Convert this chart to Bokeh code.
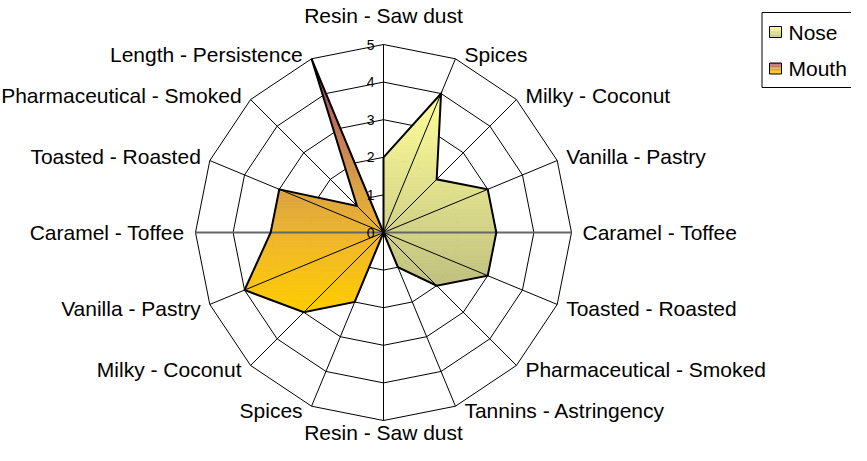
import numpy as np
from bokeh.plotting import figure
from bokeh.models import Range1d
from bokeh.core.properties import value
from bokeh.embed import file_html
from bokeh.resources import INLINE

# ---------------- data ----------------
categories = ["Resin - Saw dust", "Spices", "Milky - Coconut", "Vanilla - Pastry",
              "Caramel - Toffee", "Toasted - Roasted", "Pharmaceutical - Smoked",
              "Tannins - Astringency", "Resin - Saw dust", "Spices", "Milky - Coconut",
              "Vanilla - Pastry", "Caramel - Toffee", "Toasted - Roasted",
              "Pharmaceutical - Smoked", "Length - Persistence"]
nose = [2, 4, 2, 3, 3, 3, 2, 1, 0, 0, 0, 0, 0, 0, 0, 0]
mouth = [0, 0, 0, 0, 0, 0, 0, 0, 0, 2, 3, 4, 3, 3, 1, 5]
tick_values = [0, 1, 2, 3, 4, 5]
tick_labels = ["0", "1", "2", "3", "4", "5"]
series_names = ["Nose", "Mouth"]

# ---------------- styles ----------------
W, H = 851, 445
S = 37.6                 # pixels per value unit
CX, CY = 383, 232        # centre in canvas pixels
RMAX = 5
FONT = "Liberation Sans"
nose_stops = [(0.0, "#FFFF99"), (1.0, "#C0C080")]
mouth_stops = [(0.0, "#993366"), (0.25, "#C0705A"), (0.5, "#D9A045"),
               (0.75, "#F2BA25"), (1.0, "#FFCC00")]


def px(v):
    return v / S


def hex2rgb(h):
    h = h.lstrip("#")
    return [int(h[i:i + 2], 16) for i in (0, 2, 4)]


def grad(stops, t):
    t = min(max(t, 0.0), 1.0)
    for (t0, c0), (t1, c1) in zip(stops[:-1], stops[1:]):
        if t <= t1:
            f = 0 if t1 == t0 else (t - t0) / (t1 - t0)
            a, b = hex2rgb(c0), hex2rgb(c1)
            return "#%02x%02x%02x" % tuple(int(round(a[k] + f * (b[k] - a[k]))) for k in range(3))
    return stops[-1][1]


def clip(poly, y0, keep_above):
    out = []
    n = len(poly)
    for i in range(n):
        cur, prev = poly[i], poly[i - 1]
        cin = cur[1] >= y0 if keep_above else cur[1] <= y0
        pin = prev[1] >= y0 if keep_above else prev[1] <= y0
        if cin != pin:
            t = (y0 - prev[1]) / (cur[1] - prev[1])
            out.append((prev[0] + t * (cur[0] - prev[0]), y0))
        if cin:
            out.append(cur)
    return out


N = len(categories)
ang = np.arange(N) * 2 * np.pi / N
sx, sy = np.sin(ang), np.cos(ang)

p = figure(width=W, height=H, output_backend="svg", toolbar_location=None,
           x_range=Range1d(-CX / S, (W - CX) / S),
           y_range=Range1d(-(H - CY) / S, CY / S), min_border=0)
p.axis.visible = False
p.grid.visible = False
p.outline_line_color = None
p.background_fill_color = "white"

# rings
for k in tick_values[1:]:
    p.line(list(k * sx) + [k * sx[0]], list(k * sy) + [k * sy[0]],
           line_color="black", line_width=1)


def gradient_fill(vals, stops, nb=90):
    v = np.array(vals, dtype=float)
    poly = list(zip(v * sx, v * sy))
    ys = [q[1] for q in poly] + [0.0]
    ymax, ymin = max(ys), min(ys)
    edges = np.linspace(ymax, ymin, nb + 1)
    xs_l, ys_l, cols = [], [], []
    # star-shaped around the centre: fan of convex triangles
    for i in range(N):
        a, b = poly[i], poly[(i + 1) % N]
        tri = [(0.0, 0.0), a, b]
        area = abs(a[0] * b[1] - a[1] * b[0])
        if area < 1e-9:
            continue
        for j in range(nb):
            top, bot = edges[j], edges[j + 1]
            piece = clip(clip(tri, top, False), bot, True)
            if len(piece) < 3:
                continue
            xs_l.append([q[0] for q in piece])
            ys_l.append([q[1] for q in piece])
            cols.append(grad(stops, (j + 0.5) / nb))
    p.patches(xs_l, ys_l, fill_color=cols, line_color=cols, line_width=0.8)
    return poly


polys = [gradient_fill(nose, nose_stops), gradient_fill(mouth, mouth_stops)]

# spokes
for i in range(N):
    horiz = abs(sy[i]) < 1e-9
    p.line([0, RMAX * sx[i]], [0, RMAX * sy[i]],
           line_color="#666666" if horiz else "black",
           line_width=2 if horiz else 1)

# series outlines
for poly in polys:
    p.line([q[0] for q in poly] + [poly[0][0]], [q[1] for q in poly] + [poly[0][1]],
           line_color="black", line_width=2, line_join="miter")

# tick labels
p.text(x=[px(-9)] * len(tick_values), y=tick_values, text=tick_labels,
       text_font=value(FONT), text_font_size="14px", text_color="black",
       text_align="right", text_baseline="middle")

# category labels
lx, ly, la = [], [], []
for i in range(N):
    ex, ey = RMAX * sx[i], RMAX * sy[i]
    if abs(sx[i]) < 1e-9:
        lx.append(ex)
        ly.append(ey + (px(29) if sy[i] > 0 else -px(12)))
        la.append("center")
    else:
        horiz = abs(sy[i]) < 1e-9
        dx = px(11) if horiz else px(9)
        lx.append(ex + (dx if sx[i] > 0 else -dx))
        ly.append(ey + (0 if horiz else (px(4) if sy[i] > 0 else -px(4))))
        la.append("left" if sx[i] > 0 else "right")
p.text(x=lx, y=ly, text=categories, text_align=la, text_baseline="middle",
       text_font=value(FONT), text_font_size="21px", text_color="black")


# legend (page pixel coords converted)
def dx_(page_x):
    return (page_x - 391) / S


def dy_(page_y):
    return (240 - page_y) / S


LX = 769.5
p.quad(left=[dx_(LX)], right=[dx_(900)], top=[dy_(20)], bottom=[dy_(95)],
       fill_color="white", line_color="black", line_width=1)
for name, stops, cy in zip(series_names, [nose_stops, mouth_stops], [39.5, 76]):
    nbs = 8
    e = np.linspace(cy - 5.5, cy + 5.5, nbs + 1)
    p.quad(left=[dx_(LX + 7.5)] * nbs, right=[dx_(LX + 19.5)] * nbs,
           top=[dy_(e[j]) for j in range(nbs)], bottom=[dy_(e[j + 1]) for j in range(nbs)],
           fill_color=[grad(stops, (j + 0.5) / nbs) for j in range(nbs)], line_color=None)
    p.quad(left=[dx_(LX + 7.5)], right=[dx_(LX + 19.5)], top=[dy_(cy - 5.5)], bottom=[dy_(cy + 5.5)],
           fill_color=None, line_color="black", line_width=1)
    p.text(x=[dx_(LX + 26.5)], y=[dy_(cy)], text=[name], text_baseline="middle",
           text_font=value(FONT), text_font_size="21px", text_color="black")

open("out.html", "w").write(file_html(p, INLINE))
